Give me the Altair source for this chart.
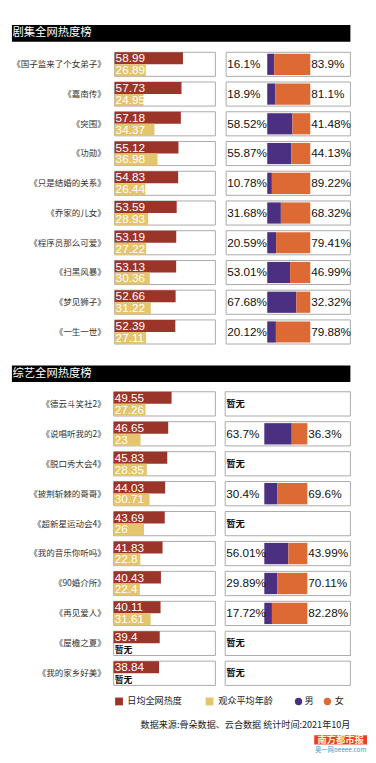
import altair as alt
import pandas as pd

# ---------------- data ----------------
drama_titles = ["《国子监来了个女弟子》", "《嘉南传》", "《突围》", "《功勋》", "《只是结婚的关系》",
                "《乔家的儿女》", "《程序员那么可爱》", "《扫黑风暴》", "《梦见狮子》", "《一生一世》"]
drama_heat = [58.99, 57.73, 57.18, 55.12, 54.83, 53.59, 53.19, 53.13, 52.66, 52.39]
drama_age = [26.89, 24.95, 34.37, 36.98, 26.44, 28.93, 27.22, 30.36, 31.22, 27.11]
drama_male = [16.1, 18.9, 58.52, 55.87, 10.78, 31.68, 20.59, 53.01, 67.68, 20.12]
drama_female = [83.9, 81.1, 41.48, 44.13, 89.22, 68.32, 79.41, 46.99, 32.32, 79.88]

variety_titles = ["《德云斗笑社2》", "《说唱听我的2》", "《脱口秀大会4》", "《披荆斩棘的哥哥》", "《超新星运动会4》",
                  "《我的音乐你听吗》", "《90婚介所》", "《再见爱人》", "《屋檐之夏》", "《我的家乡好美》"]
variety_heat = [49.55, 46.65, 45.83, 44.03, 43.69, 41.83, 40.43, 40.11, 39.4, 38.84]
variety_age = [27.26, 23, 28.35, 30.71, 26, 22.8, 22.4, 31.61, None, None]
variety_male = [None, 63.7, None, 30.4, None, 56.01, 29.89, 17.72, None, None]
variety_female = [None, 36.3, None, 69.6, None, 43.99, 70.11, 82.28, None, None]

color_keys = ["日均全网热度", "观众平均年龄", "男", "女"]
color_vals = ["#9c3529", "#e4c46c", "#4b2f80", "#dd6a34"]
NA_TEXT = "暂无"
source_text = "数据来源:骨朵数据、云合数据  统计时间:2021年10月"

# ---------------- style ----------------
W = 368
NUM_FONT = "Liberation Sans"
CJK_FONT = "Noto Sans CJK SC"
cscale = alt.Scale(domain=color_keys, range=color_vals)


def fmt(v):
    return f"{v:g}"


def section(titles, heat, age, male, female, height, lay):
    ysc = alt.Scale(domain=titles, paddingInner=0.19, paddingOuter=0.095)
    Y = alt.Y("title:N", sort=None, scale=ysc, axis=None)

    rows = pd.DataFrame({"title": titles, "heat_label": [fmt(v) for v in heat]})
    age_rows = pd.DataFrame({"title": [t for t, a in zip(titles, age) if a is not None],
                             "age_label": [fmt(a) for a in age if a is not None]})
    age_na = pd.DataFrame({"title": [t for t, a in zip(titles, age) if a is None]})
    sex_rows = pd.DataFrame({"title": [t for t, m in zip(titles, male) if m is not None],
                             "male_label": [fmt(m) + "%" for m in male if m is not None],
                             "female_label": [fmt(f) + "%" for f in female if f is not None]})
    sex_na = pd.DataFrame({"title": [t for t, m in zip(titles, male) if m is None]})

    bars = []
    for t, h, a in zip(titles, heat, age):
        bars.append({"title": t, "measure": color_keys[0], "value": h})
        if a is not None:
            bars.append({"title": t, "measure": color_keys[1], "value": a})
    bars_df = pd.DataFrame(bars)

    sex = []
    for t, m, f in zip(titles, male, female):
        if m is not None:
            sex.append({"title": t, "g": color_keys[2], "pct": m, "ord": 0})
            sex.append({"title": t, "g": color_keys[3], "pct": f, "ord": 1})
    sex_df = pd.DataFrame(sex)

    layers = []
    box_style = dict(fill="white", stroke="#a9a9a9", strokeWidth=1)
    layers.append(alt.Chart(rows).mark_rect(**box_style).encode(
        y=Y, x=alt.value(lay["l0"]), x2=alt.value(lay["l1"])))
    layers.append(alt.Chart(rows).mark_rect(**box_style).encode(
        y=Y, x=alt.value(lay["r0"]), x2=alt.value(lay["r1"])))

    layers.append(alt.Chart(bars_df).mark_bar().encode(
        y=Y,
        yOffset=alt.YOffset("measure:N", sort=None,
                            scale=alt.Scale(domain=color_keys[:2], paddingInner=0, paddingOuter=0)),
        x=alt.X("value:Q", scale=alt.Scale(domain=[0, 87], range=[lay["l0"], lay["l1"]], nice=False),
                axis=None),
        color=alt.Color("measure:N", scale=cscale, legend=None),
    ))

    layers.append(alt.Chart(sex_df).mark_bar(height={"band": 0.88}).encode(
        y=Y,
        x=alt.X("pct:Q", stack="zero",
                scale=alt.Scale(domain=[0, 100], range=[lay["s0"], lay["s1"]], nice=False), axis=None),
        color=alt.Color("g:N", scale=cscale, legend=None),
        order=alt.Order("ord:Q"),
    ))

    num = dict(baseline="middle", font=NUM_FONT, fontSize=12)
    layers.append(alt.Chart(rows).mark_text(align="left", dy=-6, color="white", **num).encode(
        y=Y, x=alt.value(lay["l0"] + 1), text="heat_label:N"))
    if len(age_rows):
        layers.append(alt.Chart(age_rows).mark_text(align="left", dy=6, color="white", **num).encode(
            y=Y, x=alt.value(lay["l0"] + 1), text="age_label:N"))
    if len(age_na):
        layers.append(alt.Chart(age_na).mark_text(
            align="left", baseline="middle", dy=7, color="#111", font=CJK_FONT, fontSize=9,
            fontWeight="bold", text=NA_TEXT).encode(y=Y, x=alt.value(lay["l0"] + 1)))
    layers.append(alt.Chart(sex_rows).mark_text(align="left", color="#111", **num).encode(
        y=Y, x=alt.value(lay["r0"] + 1), text="male_label:N"))
    layers.append(alt.Chart(sex_rows).mark_text(align="left", color="#111", **num).encode(
        y=Y, x=alt.value(lay["s1"] + 1), text="female_label:N"))
    if len(sex_na):
        layers.append(alt.Chart(sex_na).mark_text(
            align="left", baseline="middle", color="#111", font=CJK_FONT, fontSize=9.5,
            fontWeight="bold", text=NA_TEXT).encode(y=Y, x=alt.value(lay["r0"] + 1)))
    layers.append(alt.Chart(rows).mark_text(
        align="right", baseline="middle", color="#333", font=CJK_FONT, fontSize=8.7).encode(
        y=Y, x=alt.value(100), text="title:N"))

    return alt.layer(*layers).properties(width=W, height=height).resolve_scale(x="independent")


def header(text, height, y0):
    df = pd.DataFrame({"t": [text]})
    rect = alt.Chart(df).mark_rect(color="black").encode(
        x=alt.value(4), x2=alt.value(350), y=alt.value(y0), y2=alt.value(y0 + 17))
    txt = alt.Chart(df).mark_text(align="left", baseline="middle", color="white",
                                  font=CJK_FONT, fontSize=11.6).encode(
        x=alt.value(4.5), y=alt.value(y0 + 8.5), text="t:N")
    return alt.layer(rect, txt).properties(width=W, height=height)


def footer(height):
    layers = []
    sym_x = [113.5, 206, 297, 326.5]
    lab_x = [122, 215, 303, 334]
    shapes = ["square", "square", "circle", "circle"]
    sizes = [64, 64, 56, 56]
    ly = 13.5
    for k, sx, lx, sh, sz in zip(color_keys, sym_x, lab_x, shapes, sizes):
        df = pd.DataFrame({"k": [k]})
        layers.append(alt.Chart(df).mark_point(filled=True, opacity=1, shape=sh, size=sz).encode(
            x=alt.value(sx), y=alt.value(ly), color=alt.Color("k:N", scale=cscale, legend=None)))
        layers.append(alt.Chart(df).mark_text(align="left", baseline="middle", color="#222",
                                              font=CJK_FONT, fontSize=9.3).encode(
            x=alt.value(lx), y=alt.value(ly), text="k:N"))
    sdf = pd.DataFrame({"t": [source_text]})
    layers.append(alt.Chart(sdf).mark_text(align="right", baseline="middle", color="#222",
                                           font=CJK_FONT, fontSize=9.3).encode(
        x=alt.value(350), y=alt.value(38), text="t:N"))
    logo = pd.DataFrame({"t": ["南方都市报"], "s": ["奥一网oeeee.com"]})
    layers.append(alt.Chart(logo).mark_rect(color="#e6402b").encode(
        x=alt.value(313), x2=alt.value(367), y=alt.value(48), y2=alt.value(57.5)))
    layers.append(alt.Chart(logo).mark_text(align="center", baseline="middle", color="#fff3c4",
                                            font=CJK_FONT, fontSize=9.5, fontWeight="bold").encode(
        x=alt.value(340), y=alt.value(53), text="t:N"))
    layers.append(alt.Chart(logo).mark_text(align="center", baseline="middle", color="#4a95c8",
                                            font=CJK_FONT, fontSize=6.5).encode(
        x=alt.value(340), y=alt.value(63), text="s:N"))
    return alt.layer(*layers).properties(width=W, height=height)


drama_lay = dict(l0=109, l1=212, r0=223, r1=350, s0=265, s1=309)
variety_lay = dict(l0=108, l1=212, r0=222, r1=350, s0=262, s1=306)

chart = alt.vconcat(
    header("剧集全网热度榜", 34, 9),
    section(drama_titles, drama_heat, drama_age, drama_male, drama_female, 304, drama_lay),
    header("综艺全网热度榜", 43, 19),
    section(variety_titles, variety_heat, variety_age, variety_male, variety_female, 306, variety_lay),
    footer(66),
    spacing=0,
    bounds="flush",
).configure_view(stroke=None).properties(padding=0)

chart.save("out.html", embed_options={"renderer": "svg", "actions": False})
